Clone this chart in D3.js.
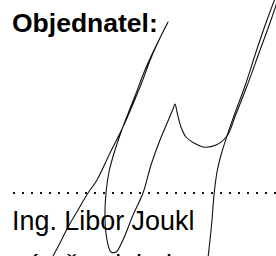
<!DOCTYPE html>
<html>
<head>
    <meta charset="utf-8">
    <script src="https://d3js.org/d3.v7.min.js"></script>
    <style>
        body { margin: 0; background: #fff; }
        svg { display: block; }
    </style>
</head>
<body>
    <svg id="sheet" width="276" height="256"></svg>

    <script>
        // texts
        const headingText = "Objednatel:";
        const nameText = "Ing. Libor Joukl";
        const roleText = "náměstek hejtmana";

        // signature strokes, in sheet units (0..276 x 0..256)
        const strokeLoop = [
            [53, 256], [60, 243], [67, 229], [78, 210], [88, 193], [97, 180], [110, 153],
            [123, 127], [133, 104], [142, 82], [151, 58], [160, 38], [168, 22],
            [164, 30], [155, 48], [145, 70], [135, 96], [124, 124], [115, 150],
            [109, 172], [106, 193], [105, 218], [107, 240], [111, 252], [116, 252],
            [123, 240], [133, 215], [143, 193], [151, 165], [160, 140], [168, 121],
            [173, 109], [175, 104], [177, 112], [181, 127], [186, 137], [194, 143],
            [203, 147], [216, 145], [227, 136], [236, 114], [247, 86], [259, 53],
            [271, 20], [279, -4]
        ];
        const strokeDrop = [
            [276, -4], [267, 20], [256, 52], [245, 86], [235, 113], [227, 136],
            [221, 155], [217, 172], [214, 195], [212, 220], [210, 240], [208, 258]
        ];
        const signature = [strokeLoop, strokeDrop];

        // dotted signature line
        const dotLine = [13, 276];
        const dotLineY = 193;

        const svg = d3.select("#sheet"),
            width = +svg.attr("width"),
            height = +svg.attr("height");

        const x = d3.scaleLinear().domain([0, 276]).range([0, width]);
        const y = d3.scaleLinear().domain([0, 256]).range([0, height]);

        // heading
        svg.append("text")
            .attr("x", x(12))
            .attr("y", y(32))
            .style("font-family", "'Liberation Sans', Arial, sans-serif")
            .style("font-weight", "bold")
            .style("font-size", "26.5px")
            .attr("fill", "#000")
            .text(headingText);

        // dotted line
        svg.append("line")
            .attr("x1", x(dotLine[0])).attr("x2", x(dotLine[1]))
            .attr("y1", y(dotLineY)).attr("y2", y(dotLineY))
            .attr("stroke", "#111")
            .attr("stroke-width", 2)
            .attr("stroke-dasharray", "2,7");

        // name + role (role is cut off at the bottom edge, as on the scan)
        svg.append("text")
            .attr("x", x(12))
            .attr("y", y(230))
            .style("font-family", "'Liberation Sans', Arial, sans-serif")
            .style("font-size", "26.9px")
            .attr("fill", "#000")
            .text(nameText);

        svg.append("text")
            .attr("x", x(12))
            .attr("y", y(274))
            .style("font-family", "'Liberation Sans', Arial, sans-serif")
            .style("font-size", "26.9px")
            .attr("fill", "#000")
            .text(roleText);

        // signature
        const line = d3.line()
            .x(d => x(d[0]))
            .y(d => y(d[1]))
            .curve(d3.curveCatmullRom.alpha(0.5));

        svg.append("g")
            .selectAll("path")
            .data(signature)
            .join("path")
                .attr("d", line)
                .attr("fill", "none")
                .attr("stroke", "#111")
                .attr("stroke-width", 1.1)
                .attr("stroke-linejoin", "round")
                .attr("stroke-linecap", "round");
    </script>
</body>
</html>
